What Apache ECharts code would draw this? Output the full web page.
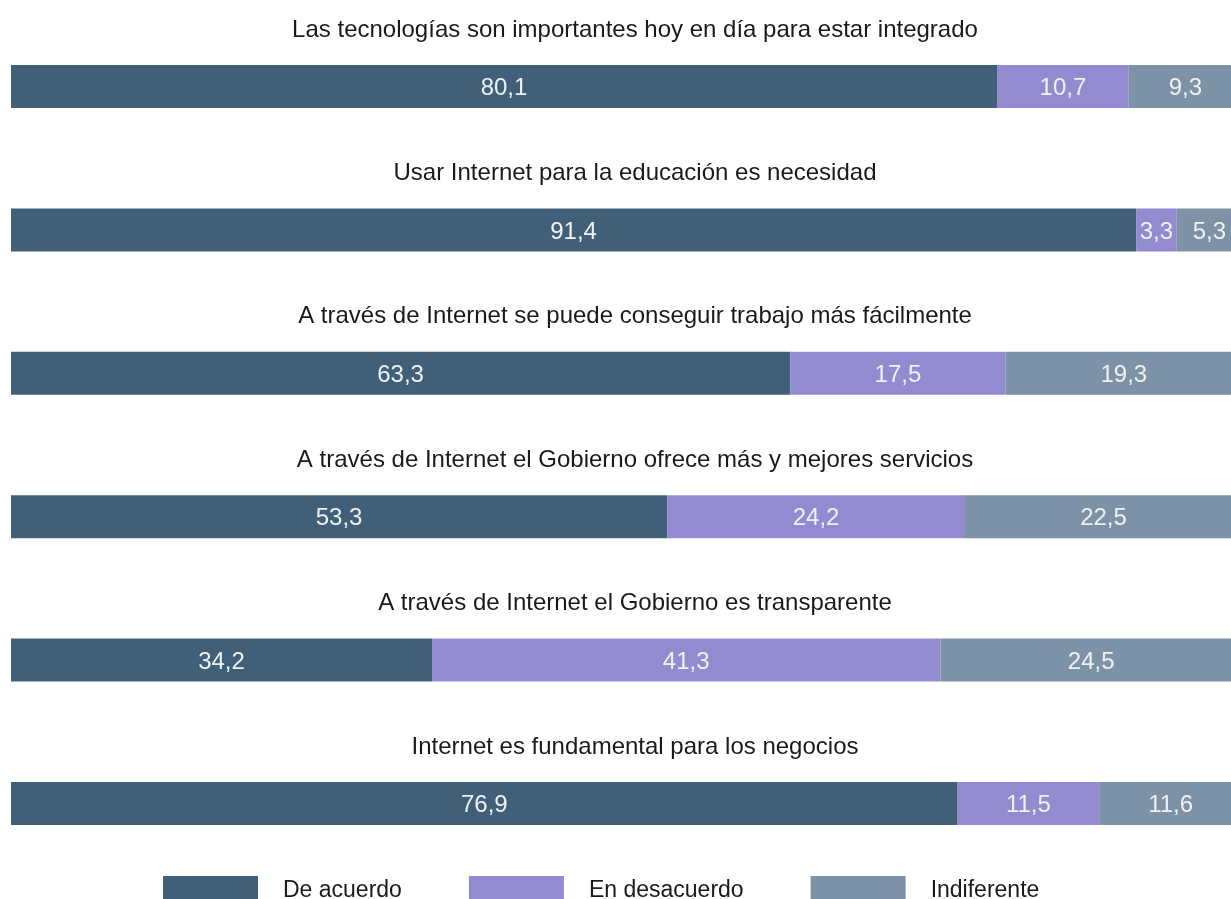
<!DOCTYPE html>
<html>
<head>
    <meta charset="UTF-8"/>
    <title>ECharts</title>
    <script src="https://cdn.jsdelivr.net/npm/echarts@6/dist/echarts.min.js"></script>
    <style>
        html, body { margin: 0; padding: 0; background: #fff; }
    </style>
</head>
<body>
<div id="main" style="width: 1231px;height:899px;"></div>
<script>
    // data
    var preguntas = [
        'Las tecnologías son importantes hoy en día para estar integrado',
        'Usar Internet para la educación es necesidad',
        'A través de Internet se puede conseguir trabajo más fácilmente',
        'A través de Internet el Gobierno ofrece más y mejores servicios',
        'A través de Internet el Gobierno es transparente',
        'Internet es fundamental para los negocios'
    ];
    var series_names = ['De acuerdo', 'En desacuerdo', 'Indiferente'];
    var deAcuerdo    = [80.1, 91.4, 63.3, 53.3, 34.2, 76.9];
    var enDesacuerdo = [10.7, 3.3, 17.5, 24.2, 41.3, 11.5];
    var indiferente  = [9.3, 5.3, 19.3, 22.5, 24.5, 11.6];
    var valores = [deAcuerdo, enDesacuerdo, indiferente];
    var colores = ['#3f6078', '#938bd0', '#7d92a7'];

    var myChart = echarts.init(document.getElementById('main'));

    var paso = 143.4;
    var grids = [], xAxes = [], yAxes = [], titles = [], series = [];

    // un grid por pregunta, titulo encima de la barra
    for (var i = 0; i < preguntas.length; i++) {
        var y0 = 65 + i * paso;
        grids.push({left: 11, top: y0, width: 1231, height: 43, outerBoundsMode: 'none', containLabel: false});
        xAxes.push({type: 'value', gridIndex: i, min: 0, max: 100, show: false});
        yAxes.push({type: 'category', gridIndex: i, data: [preguntas[i]], show: false});
        titles.push({
            text: preguntas[i],
            left: 630,
            top: y0 - 52,
            textAlign: 'center',
            textStyle: {fontFamily: 'Liberation Sans', fontSize: 24, fontWeight: 'normal', color: '#1a1a1a'}
        });
        for (var s = 0; s < 3; s++) {
            series.push({
                name: series_names[s],
                type: 'bar',
                stack: 'total' + i,
                xAxisIndex: i,
                yAxisIndex: i,
                barWidth: 43,
                itemStyle: {color: colores[s]},
                label: {
                    show: true,
                    position: 'inside',
                    offset: [0, 2],
                    color: '#eef2f5',
                    fontFamily: 'Liberation Sans',
                    fontSize: 24,
                    formatter: function (p) { return String(p.value).replace('.', ','); }
                },
                silent: true,
                data: [valores[s][i]]
            });
        }
    }

    var option = {
        animation: false,
        title: titles,
        grid: grids,
        xAxis: xAxes,
        yAxis: yAxes,
        legend: {
            data: series_names,
            top: 871,
            left: 158,
            icon: 'rect',
            itemWidth: 95,
            itemHeight: 30,
            itemGap: 67,
            textStyle: {fontFamily: 'Liberation Sans', fontSize: 23, color: '#1a1a1a', padding: [0, 0, 0, 20]}
        },
        series: series
    };

    myChart.setOption(option);
</script>
</body>
</html>
